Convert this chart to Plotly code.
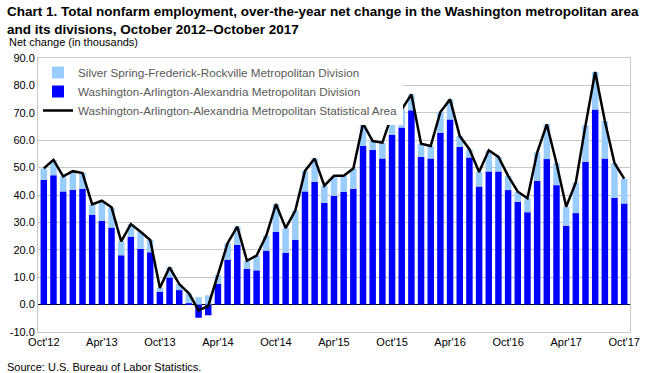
import plotly.graph_objects as go

months = ["Oct'12","Nov'12","Dec'12",
          "Jan'13","Feb'13","Mar'13","Apr'13","May'13","Jun'13","Jul'13","Aug'13","Sep'13","Oct'13","Nov'13","Dec'13",
          "Jan'14","Feb'14","Mar'14","Apr'14","May'14","Jun'14","Jul'14","Aug'14","Sep'14","Oct'14","Nov'14","Dec'14",
          "Jan'15","Feb'15","Mar'15","Apr'15","May'15","Jun'15","Jul'15","Aug'15","Sep'15","Oct'15","Nov'15","Dec'15",
          "Jan'16","Feb'16","Mar'16","Apr'16","May'16","Jun'16","Jul'16","Aug'16","Sep'16","Oct'16","Nov'16","Dec'16",
          "Jan'17","Feb'17","Mar'17","Apr'17","May'17","Jun'17","Jul'17","Aug'17","Sep'17","Oct'17"]

washington_div = [45.5, 47.2, 41.3,
                  41.9, 42.2, 32.8, 30.5, 28.1, 18.0, 24.8, 20.3, 19.1, 4.6, 9.9, 5.3,
                  0.5, -4.8, -3.9, 7.6, 16.4, 21.8, 13.1, 12.5, 19.7, 26.6, 18.9, 23.7,
                  41.3, 44.8, 37.1, 39.7, 41.2, 42.2, 57.9, 56.4, 53.3, 62.0, 64.6, 70.9,
                  53.9, 53.3, 62.7, 67.6, 57.5, 53.7, 43.1, 48.6, 48.6, 41.8, 37.5, 33.7,
                  45.1, 53.1, 43.6, 28.8, 33.4, 52.1, 71.2, 53.3, 38.9, 36.9]

silver_spring_div = [4.2, 5.6, 5.5,
                     6.8, 5.8, 3.8, 7.4, 7.4, 5.1, 4.6, 6.3, 4.5, 1.5, 3.7, 2.2,
                     3.6, 2.7, 3.4, 3.3, 6.0, 6.7, 2.9, 5.4, 5.5, 10.1, 9.0, 10.6,
                     7.5, 8.5, 6.3, 7.3, 5.8, 7.5, 8.2, 3.3, 5.8, 7.4, 6.6, 5.8,
                     4.8, 4.6, 7.6, 7.3, 4.0, 3.0, 5.3, 7.7, 5.3, 5.2, 3.7, 5.1,
                     10.4, 12.7, 8.0, 6.9, 11.2, 13.3, 13.7, 13.7, 12.7, 9.1]

msa_total = [49.7, 52.8, 46.8,
             48.7, 48.0, 36.6, 37.9, 35.5, 23.1, 29.4, 26.6, 23.6, 6.1, 13.6, 7.5,
             4.1, -2.1, -0.5, 10.9, 22.4, 28.5, 16.0, 17.9, 25.2, 36.7, 27.9, 34.3,
             48.8, 53.3, 43.4, 47.0, 47.0, 49.7, 66.1, 59.7, 59.1, 69.4, 71.2, 76.7,
             58.7, 57.9, 70.3, 74.9, 61.5, 56.7, 48.4, 56.3, 53.9, 47.0, 41.2, 38.8,
             55.5, 65.8, 51.6, 35.7, 44.6, 65.4, 84.9, 67.0, 51.6, 46.0]

y_ticks = [-10, 0, 10, 20, 30, 40, 50, 60, 70, 80, 90]

title_lines = ["Chart 1. Total nonfarm employment, over-the-year net change in the Washington metropolitan area",
               "and its divisions, October 2012\u2013October 2017"]

x = list(range(len(months)))
tick_idx = list(range(0, len(months), 6))

fig = go.Figure()
fig.add_trace(go.Bar(
    x=x, y=washington_div, name="Washington-Arlington-Alexandria Metropolitan Division",
    marker=dict(color="#0000FF", line=dict(width=0)), legendrank=2))
fig.add_trace(go.Bar(
    x=x, y=silver_spring_div, name="Silver Spring-Frederick-Rockville Metropolitan Division",
    marker=dict(color="#99CCFF", line=dict(width=0)), legendrank=1))
fig.add_trace(go.Scatter(
    x=x, y=msa_total, mode="lines", name="Washington-Arlington-Alexandria Metropolitan Statistical Area",
    line=dict(color="black", width=2.5), legendrank=3))

fig.update_layout(
    width=650, height=373,
    margin=dict(l=36, r=10, t=58, b=41),
    paper_bgcolor="white", plot_bgcolor="white",
    barmode="relative", bargap=0.33,
    font=dict(family="Liberation Sans, Arial, sans-serif", size=11, color="#000000"),
    showlegend=True,
    legend=dict(x=0.0, y=1.0, xanchor="left", yanchor="top",
                bgcolor="rgba(255,255,255,1)", font=dict(size=11.7, color="#595959"),
                tracegroupgap=0, itemwidth=30),
    xaxis=dict(range=[-0.6, 60.6], tickmode="array", tickvals=[x[i] for i in tick_idx],
               ticktext=[months[i] for i in tick_idx], showgrid=False, ticks="",
               showline=True, linecolor="#C8C8C8", mirror=True, zeroline=False,
               tickfont=dict(size=11, color="#000000")),
    yaxis=dict(range=[-10, 90], tickmode="array", tickvals=y_ticks,
               ticktext=[f"{v:.1f}" for v in y_ticks], showgrid=True, gridcolor="#C8C8C8",
               gridwidth=1, showline=True, linecolor="#C8C8C8", mirror=True,
               zeroline=True, zerolinecolor="black", zerolinewidth=1,
               ticks="", tickfont=dict(size=11, color="#000000")),
)

for line, shift in zip(title_lines, [47, 29]):
    fig.add_annotation(xref="paper", yref="paper", x=-0.055, y=1.0, yanchor="middle", xanchor="left",
                       yshift=shift, align="left", showarrow=False,
                       text=f"<b>{line}</b>", font=dict(size=13.5, color="black"))
fig.add_annotation(xref="paper", yref="paper", x=-0.052, y=1.0, yanchor="bottom", xanchor="left",
                   yshift=8, showarrow=False, text="Net change (in thousands)",
                   font=dict(size=11, color="black"))
fig.add_annotation(xref="paper", yref="paper", x=-0.055, y=0, yanchor="top", xanchor="left",
                   yshift=-27, showarrow=False, text="Source: U.S. Bureau of Labor Statistics.",
                   font=dict(size=11, color="black"))

fig.write_html("out.html", config={"displayModeBar": False},
               post_script="document.body.style.margin='0';document.body.style.overflow='hidden';")
